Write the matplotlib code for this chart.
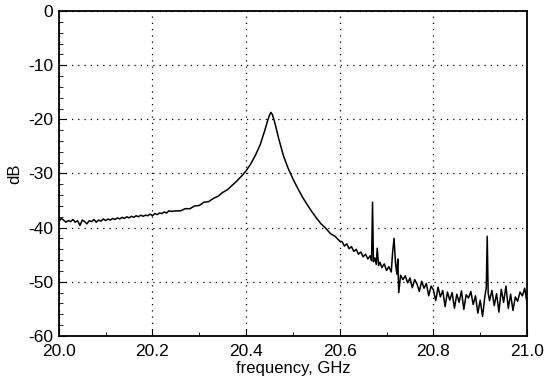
import numpy as np
import matplotlib.pyplot as plt

plt.rcParams['font.family'] = ['Liberation Sans', 'DejaVu Sans']

# -----------------------------
# Trace (frequency in GHz, level in dB)
# -----------------------------
freq_left = [20.000, 20.005, 20.010, 20.015, 20.020, 20.025, 20.030, 20.035, 20.040, 20.045,
             20.050, 20.055, 20.060, 20.065, 20.070, 20.075, 20.080, 20.085, 20.090, 20.095,
             20.100, 20.105, 20.110, 20.115, 20.120, 20.125, 20.130, 20.135, 20.140, 20.145,
             20.150, 20.155, 20.160, 20.165, 20.170, 20.175, 20.180, 20.185, 20.190, 20.195,
             20.200, 20.205, 20.210, 20.215, 20.220, 20.225, 20.230, 20.235, 20.240, 20.250]
db_left = [-38.9, -38.3, -38.6, -39.0, -38.7, -38.9, -38.5, -39.0, -38.7, -39.6,
           -38.6, -38.9, -39.3, -38.7, -38.9, -38.5, -39.0, -38.6, -38.8, -38.4,
           -38.7, -38.4, -38.6, -38.3, -38.5, -38.2, -38.4, -38.1, -38.3, -38.0,
           -38.2, -37.9, -38.1, -37.8, -38.0, -37.7, -37.9, -37.7, -37.8, -37.5,
           -37.8, -37.4, -37.6, -37.3, -37.4, -37.1, -37.3, -36.9, -37.0, -36.9]

freq_peak = [20.260, 20.270, 20.280, 20.290, 20.300, 20.310, 20.320, 20.330, 20.340, 20.350,
             20.360, 20.370, 20.380, 20.390, 20.400, 20.410, 20.420, 20.430, 20.440, 20.445,
             20.450, 20.453, 20.456, 20.460, 20.465, 20.470, 20.480, 20.490, 20.500, 20.510,
             20.520, 20.530, 20.540, 20.550, 20.560, 20.570, 20.580, 20.590, 20.600]
db_peak = [-36.9, -36.5, -36.5, -36.0, -35.9, -35.3, -35.2, -34.6, -34.2, -33.5,
           -33.0, -32.2, -31.4, -30.5, -29.5, -28.2, -26.6, -24.7, -22.0, -20.5,
           -19.2, -18.7, -19.1, -20.2, -21.9, -23.7, -26.8, -29.1, -31.0, -32.7,
           -34.3, -35.7, -37.0, -38.2, -39.3, -40.1, -41.1, -41.6, -42.5]

freq_tail = [20.605, 20.610, 20.615, 20.620, 20.625, 20.630, 20.635, 20.640, 20.645, 20.650,
             20.655, 20.660, 20.665, 20.668, 20.670, 20.672, 20.675, 20.678, 20.680, 20.683,
             20.686, 20.690, 20.695, 20.700, 20.705, 20.710, 20.713, 20.716, 20.719, 20.722,
             20.724, 20.726, 20.730, 20.735, 20.740, 20.745, 20.750, 20.755, 20.760, 20.765,
             20.770, 20.775, 20.780, 20.785, 20.790, 20.795, 20.800, 20.805, 20.810, 20.815,
             20.820, 20.825, 20.830, 20.835, 20.840, 20.845, 20.850, 20.855, 20.860, 20.865,
             20.870, 20.875, 20.880, 20.885, 20.890, 20.895, 20.900, 20.905, 20.910, 20.913,
             20.915, 20.917, 20.920, 20.925, 20.930, 20.935, 20.940, 20.945, 20.950, 20.955,
             20.960, 20.965, 20.970, 20.975, 20.980, 20.985, 20.990, 20.995, 21.000]
db_tail = [-42.6, -43.4, -43.0, -43.9, -43.5, -44.4, -44.0, -44.9, -44.5, -45.4,
           -44.9, -45.8, -45.2, -46.1, -35.3, -46.3, -45.6, -46.8, -43.8, -47.0,
           -46.4, -47.4, -46.7, -47.9, -47.2, -48.2, -44.5, -42.0, -46.5, -48.6,
           -45.8, -52.0, -48.8, -49.6, -48.9, -50.2, -49.3, -51.1, -49.6, -50.4,
           -51.8, -49.9, -51.2, -50.3, -52.6, -50.8, -51.5, -53.5, -51.0, -52.8,
           -51.6, -54.6, -51.9, -53.4, -52.0, -54.9, -52.3, -53.8, -51.7, -55.1,
           -52.4, -53.0, -51.8, -54.2, -52.6, -55.8, -53.4, -56.4, -52.7, -51.0,
           -41.6, -52.1, -53.5, -51.6, -54.4, -52.2, -55.6, -51.4, -53.8, -50.8,
           -54.9, -52.3, -55.3, -52.8, -53.6, -51.9, -52.6, -51.2, -53.9]

x_ticks = [20.0, 20.2, 20.4, 20.6, 20.8, 21.0]
x_labels = ['20.0', '20.2', '20.4', '20.6', '20.8', '21.0']
y_ticks = [-60, -50, -40, -30, -20, -10, 0]
y_labels = ['-60', '-50', '-40', '-30', '-20', '-10', '0']

freq = np.array(freq_left + freq_peak + freq_tail)
db = np.array(db_left + db_peak + db_tail)

# -----------------------------
# Plot
# -----------------------------
fig = plt.figure(figsize=(5.45, 3.83), dpi=100)
ax = fig.add_axes([0.108, 0.123, 0.859, 0.848])
ax.plot(freq, db, color='black', lw=1.1)

ax.set_xlim(20.0, 21.0)
ax.set_ylim(-60, 0)
ax.set_xticks(x_ticks)
ax.set_xticklabels(x_labels)
ax.set_xticks(np.arange(20.1, 21.0, 0.2), minor=True)
ax.set_yticks(y_ticks)
ax.set_yticklabels(y_labels)
ax.set_yticks(np.arange(-60, 1, 2), minor=True)
ax.tick_params(which='both', direction='in', labelsize=12.5, top=False, right=False)
ax.tick_params(axis='x', pad=6)
ax.tick_params(axis='y', pad=4)
ax.tick_params(which='major', length=5)
ax.tick_params(which='minor', length=3)
ax.grid(True, which='major', color='black', linestyle=(0, (1, 4)), lw=0.9)
for s in ax.spines.values():
    s.set_linewidth(1.3)

ax.set_xlabel('frequency, GHz', fontsize=12, labelpad=1)
ax.set_ylabel('dB', fontsize=12, labelpad=4)

fig.savefig('out.png', dpi=100)
